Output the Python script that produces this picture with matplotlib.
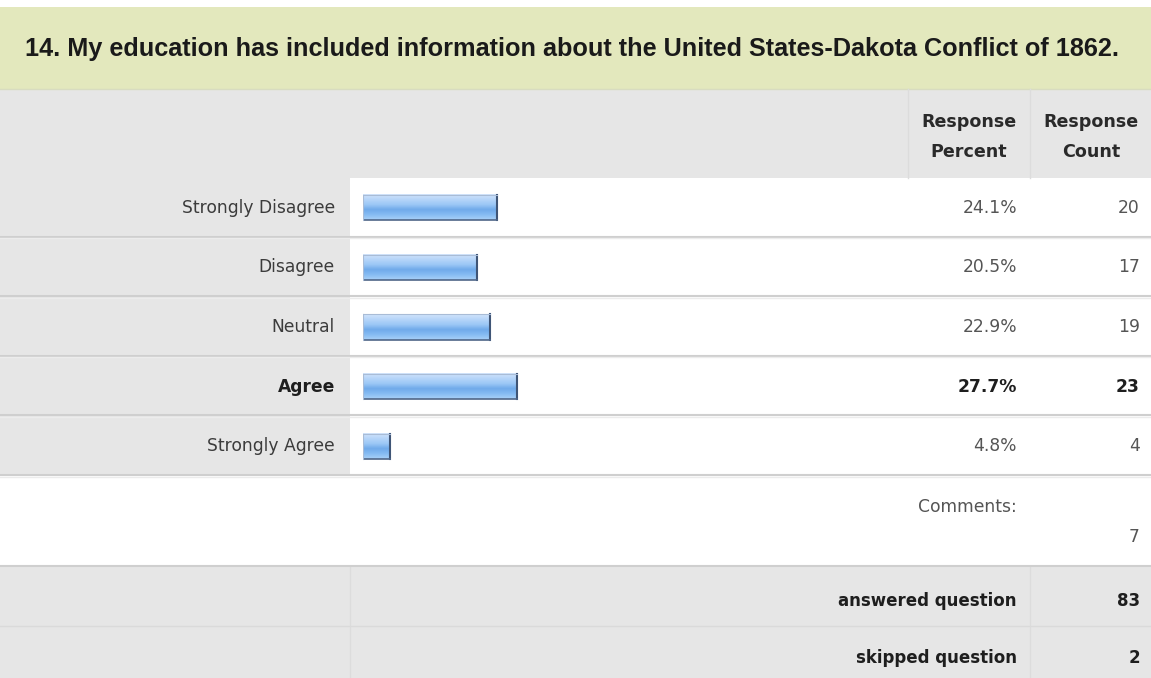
import matplotlib
matplotlib.use("Agg")
import matplotlib.pyplot as plt
import numpy as np
from matplotlib.colors import LinearSegmentedColormap

title = "14. My education has included information about the United States-Dakota Conflict of 1862."
categories = ["Strongly Disagree", "Disagree", "Neutral", "Agree", "Strongly Agree"]
percents = [24.1, 20.5, 22.9, 27.7, 4.8]
counts = [20, 17, 19, 23, 4]
bold_row = "Agree"
comments = 7
answered = 83
skipped = 2

W, H = 1151, 678
fig = plt.figure(figsize=(W / 100, H / 100), dpi=100)
bg = fig.add_axes([0, 0, 1, 1])
bg.set_xlim(0, W)
bg.set_ylim(H, 0)
bg.axis("off")

GREEN = "#e3e8bd"
GRAY = "#e6e6e6"
LINE = "#cfcfcf"
TXT = "#3c3c3c"

# layout (pixels)
title_top, title_bot = 7, 89
head_bot = 178
row_h = 59.6
rows_bot = head_bot + row_h * len(categories)
comm_bot = 566
ans_bot = 626
label_col = 350
pct_right = 1017
cnt_right = 1140
FS = 12.3

bg.add_patch(plt.Rectangle((0, title_top), W, title_bot - title_top, color=GREEN, lw=0))
bg.add_patch(plt.Rectangle((0, title_bot), W, head_bot - title_bot, color=GRAY, lw=0))
bg.add_patch(plt.Rectangle((0, head_bot), label_col, rows_bot - head_bot, color=GRAY, lw=0))
bg.add_patch(plt.Rectangle((0, comm_bot), W, H - comm_bot, color=GRAY, lw=0))
bg.plot([0, W], [title_bot, title_bot], color="#d8dcc0", lw=1)

for x in (908, 1030):
    bg.plot([x, x], [title_bot, head_bot], color="#dcdcdc", lw=1)
for x in (label_col, 1030):
    bg.plot([x, x], [comm_bot, H], color="#dcdcdc", lw=1)
bg.plot([0, W], [ans_bot, ans_bot], color="#dadada", lw=1)

# title, sized so it spans the same width as the reference
t = bg.text(25, 49, title, family="Liberation Sans", fontweight="bold", fontsize=16.3,
            color="#1a1a1a", va="center", ha="left")
fig.canvas.draw()
tw = t.get_window_extent().width
t.set_fontsize(16.3 * 1093 / tw)

hfont = dict(fontsize=12.6, fontweight="bold", family="DejaVu Sans", color="#2a2a2a",
             ha="center", va="center")
bg.text(969, 122, "Response", **hfont)
bg.text(969, 152, "Percent", **hfont)
bg.text(1091, 122, "Response", **hfont)
bg.text(1091, 152, "Count", **hfont)

for i, (cat, p, c) in enumerate(zip(categories, percents, counts)):
    yc = head_bot + row_h * (i + 0.5)
    yb = head_bot + row_h * (i + 1)
    bg.plot([0, W], [yb - 1, yb - 1], color=LINE, lw=1.5)
    bg.plot([0, W], [yb + 0.5, yb + 0.5], color="#ececec", lw=1)
    fw = "bold" if cat == bold_row else "normal"
    col = "#1e1e1e" if cat == bold_row else TXT
    kw = dict(fontsize=FS, family="DejaVu Sans", fontweight=fw, color=col, va="center")
    bg.text(335, yc, cat, ha="right", **kw)
    kw["color"] = "#1e1e1e" if cat == bold_row else "#555555"
    bg.text(pct_right, yc, f"{p:.1f}%", ha="right", **kw)
    bg.text(cnt_right, yc, str(c), ha="right", **kw)

bg.plot([0, W], [comm_bot, comm_bot], color=LINE, lw=1.5)
bg.text(pct_right, 507, "Comments:", ha="right", va="center", fontsize=FS,
        family="DejaVu Sans", color="#555555")
bg.text(cnt_right, 537, str(comments), ha="right", va="center", fontsize=FS,
        family="DejaVu Sans", color="#555555")

sk = dict(ha="right", va="center", fontsize=12, fontweight="bold",
          family="DejaVu Sans", color="#1e1e1e")
bg.text(pct_right, 601, "answered question", **sk)
bg.text(cnt_right, 601, str(answered), **sk)
bg.text(pct_right, 658, "skipped question", **sk)
bg.text(cnt_right, 658, str(skipped), **sk)

# bar area
bx0, bx1 = 363, 918
ax = fig.add_axes([bx0 / W, 1 - rows_bot / H, (bx1 - bx0) / W, (rows_bot - head_bot) / H])
ax.patch.set_alpha(0)
ax.set_xlim(0, 100)
ax.set_ylim(len(categories) - 0.5, -0.5)
ax.axis("off")

y = np.arange(len(categories))
bars = ax.barh(y, percents, height=0.42, color="#8fbff2", edgecolor="none", zorder=2)

cmap = LinearSegmentedColormap.from_list(
    "bar", ["#d2e5fb", "#b6d5f9", "#9cc8f6", "#70aaea", "#86bcf3", "#a9d0f7"])
grad = np.linspace(0, 1, 64).reshape(-1, 1)
for b in bars:
    x0, y0, w, h = b.get_x(), b.get_y(), b.get_width(), b.get_height()
    ax.imshow(grad, cmap=cmap, aspect="auto", extent=(x0, x0 + w, y0 + h, y0),
              zorder=3, interpolation="bilinear")
    ax.plot([x0 + w, x0 + w], [y0, y0 + h], color="#3f5576", lw=1.5, zorder=4)
    ax.plot([x0, x0 + w], [y0 + h, y0 + h], color="#4f6688", lw=1.2, zorder=4)
    ax.plot([x0, x0 + w], [y0, y0], color="#a9bcd6", lw=0.8, zorder=4)
    ax.plot([x0, x0], [y0, y0 + h], color="#a9bcd6", lw=0.8, zorder=4)
ax.set_xlim(0, 100)
ax.set_ylim(len(categories) - 0.5, -0.5)

fig.savefig("out.png", dpi=100)
